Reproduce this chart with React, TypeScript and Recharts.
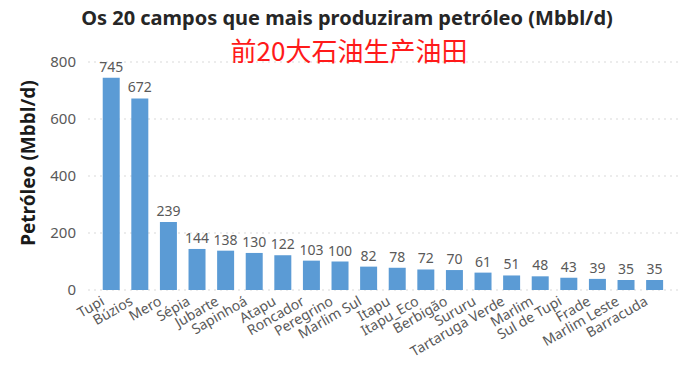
import React from "react";
import { BarChart, Bar, XAxis, YAxis, CartesianGrid, LabelList } from "recharts";

const fields = [
  "Tupi", "Búzios", "Mero", "Sépia", "Jubarte", "Sapinhoá", "Atapu", "Roncador",
  "Peregrino", "Marlim Sul", "Itapu", "Itapu_Eco", "Berbigão", "Sururu",
  "Tartaruga Verde", "Marlim", "Sul de Tupi", "Frade", "Marlim Leste", "Barracuda",
];
const production = [745, 672, 239, 144, 138, 130, 122, 103, 100, 82, 78, 72, 70, 61, 51, 48, 43, 39, 35, 35];
const yTicks = [0, 200, 400, 600, 800];

const title = "Os 20 campos que mais produziram petróleo (Mbbl/d)";
const subtitle = "前20大石油生产油田";
const yLabel = "Petróleo (Mbbl/d)";

const data = fields.map((name, i) => ({ name, value: production[i] }));

const FONT = "'Noto Sans', 'Noto Sans CJK SC', sans-serif";

const XTick = (props: any) => {
  const { x, y, payload } = props;
  return (
    <text
      x={0}
      y={0}
      transform={`translate(${x - 6},${y + 6}) rotate(-30)`}
      textAnchor="end"
      fill="#595959"
      fontSize={14}
      fontFamily={FONT}
    >
      {payload.value}
    </text>
  );
};

export default function App() {
  return (
    <div style={{ position: "absolute", left: 0, top: 0, width: 700, height: 370, background: "#fff" }}>
      <BarChart
        width={700}
        height={370}
        data={data}
        margin={{ top: 62, right: 22, bottom: 0, left: 0 }}
        barCategoryGap="20%"
      >
        <CartesianGrid vertical={false} stroke="#d9d9d9" strokeDasharray="2 4" />
        <XAxis
          dataKey="name"
          interval={0}
          height={80}
          tickLine={false}
          axisLine={false}
          padding={{ left: 9, right: 9 }}
          tick={<XTick />}
        />
        <YAxis
          width={88}
          domain={[0, 800]}
          ticks={yTicks}
          tickLine={false}
          axisLine={false}
          tickSize={0}
          tickMargin={12}
          tick={{ fill: "#595959", fontSize: 15, fontFamily: FONT }}
          label={{
            content: () => (
              <text
                x={0}
                y={0}
                transform="translate(35,163) rotate(-90)"
                textAnchor="middle"
                fontSize={19}
                fontWeight="bold"
                fill="#1a1a1a"
                fontFamily={FONT}
              >
                {yLabel}
              </text>
            ),
          }}
        />
        <Bar dataKey="value" fill="#5B9BD5" isAnimationActive={false}>
          <LabelList
            dataKey="value"
            position="top"
            offset={6}
            fill="#595959"
            fontSize={14}
            fontFamily={FONT}
          />
        </Bar>
        <text x={347} y={25} textAnchor="middle" fontSize={20} fontWeight="bold" fill="#262626" fontFamily={FONT}>
          {title}
        </text>
        <text x={349} y={61} textAnchor="middle" fontSize={26} fill="#ff1a1a" fontFamily="'Noto Sans CJK SC', sans-serif">
          {subtitle}
        </text>
      </BarChart>
    </div>
  );
}
